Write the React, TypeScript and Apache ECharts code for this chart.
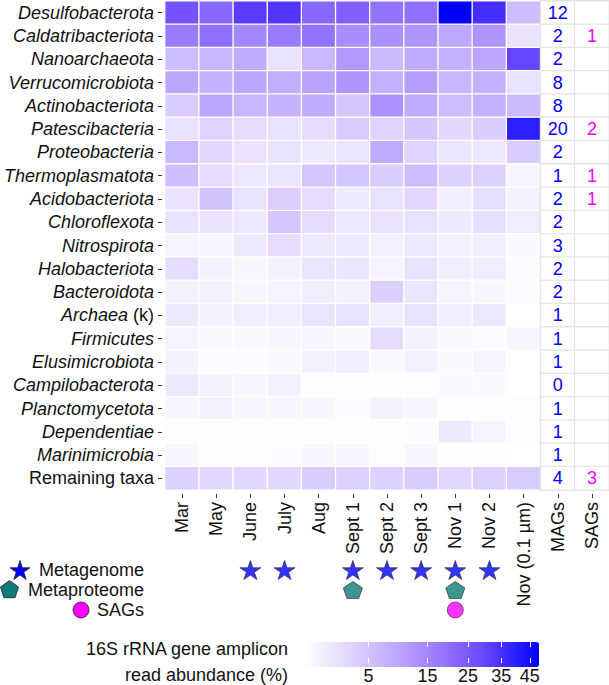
import React, { useEffect, useRef } from 'react';
import * as echarts from 'echarts';

const FONT = '"Liberation Sans", Arial, Helvetica, sans-serif';
const FS = 18;

const MONTHS = ['Mar', 'May', 'June', 'July', 'Aug', 'Sept 1', 'Sept 2', 'Sept 3', 'Nov 1', 'Nov 2', 'Nov (0.1 µm)'];
const X_CATS = [...MONTHS, 'MAGs', 'SAGs'];

const TAXA = [
  'Desulfobacterota', 'Caldatribacteriota', 'Nanoarchaeota', 'Verrucomicrobiota', 'Actinobacteriota',
  'Patescibacteria', 'Proteobacteria', 'Thermoplasmatota', 'Acidobacteriota', 'Chloroflexota',
  'Nitrospirota', 'Halobacteriota', 'Bacteroidota', 'Archaea (k)', 'Firmicutes', 'Elusimicrobiota',
  'Campilobacterota', 'Planctomycetota', 'Dependentiae', 'Marinimicrobia', 'Remaining taxa',
];

// 16S rRNA read abundance (%), one row per taxon, columns follow MONTHS
const ABUNDANCE: number[][] = [
  [26.5, 21.4, 32.1, 33.6, 21.4, 23.3, 19.1, 19.7, 48.5, 35.9, 5.9],
  [16.9, 20.2, 14.8, 17.4, 19.1, 13.8, 13.4, 12.4, 8.7, 12.4, 1.75],
  [5.9, 6.9, 8.3, 1.9, 6.5, 11.5, 6.2, 8.3, 7.6, 9.4, 29.9],
  [9.0, 7.2, 9.0, 7.9, 9.8, 12.0, 7.6, 10.7, 6.9, 7.6, 1.9],
  [3.9, 9.0, 6.9, 7.2, 8.3, 4.7, 12.9, 8.3, 5.9, 7.6, 6.2],
  [1.9, 3.2, 2.3, 1.9, 2.3, 4.1, 3.2, 4.7, 2.7, 3.9, 39.8],
  [6.5, 2.7, 1.75, 1.9, 1.3, 1.6, 8.3, 3.2, 1.6, 1.4, 3.9],
  [5.6, 2.3, 1.4, 1.6, 4.7, 4.7, 3.9, 5.9, 3.4, 3.4, 0.65],
  [1.75, 5.0, 1.9, 3.6, 2.3, 1.3, 1.9, 2.7, 1.0, 2.1, 0.75],
  [1.9, 1.75, 1.4, 4.7, 2.3, 1.4, 1.75, 1.9, 1.3, 2.1, 1.1],
  [0.65, 0.55, 1.3, 2.3, 1.3, 1.3, 0.87, 1.3, 0.87, 1.0, 0.45],
  [2.3, 0.75, 0.55, 0.75, 1.6, 1.6, 0.65, 1.9, 1.0, 1.1, 0.37],
  [0.75, 0.75, 0.55, 0.65, 1.0, 0.75, 3.6, 1.6, 0.65, 0.55, 0.37],
  [1.3, 0.75, 1.0, 1.0, 1.6, 1.9, 1.0, 1.9, 1.0, 1.4, 0.2],
  [0.65, 0.45, 0.45, 0.55, 0.55, 0.45, 2.3, 0.75, 0.45, 0.37, 0.65],
  [0.75, 0.37, 0.37, 0.45, 0.75, 1.0, 0.45, 0.75, 0.45, 0.65, 0.2],
  [1.3, 0.75, 0.55, 0.75, 0.3, 0.3, 0.27, 0.3, 0.45, 0.45, 0.2],
  [0.55, 0.75, 0.55, 0.55, 0.55, 0.37, 0.75, 0.55, 0.3, 0.3, 0.3],
  [0.3, 0.3, 0.3, 0.3, 0.3, 0.3, 0.3, 0.37, 1.3, 0.65, 0.3],
  [0.55, 0.3, 0.3, 0.37, 0.55, 0.55, 0.3, 0.55, 0.27, 0.27, 0.2],
  [3.4, 2.7, 2.7, 2.7, 3.9, 3.4, 3.4, 3.9, 2.7, 3.4, 3.9],
];

const MAGS = [12, 2, 2, 8, 8, 20, 2, 1, 2, 2, 3, 2, 2, 1, 1, 1, 0, 1, 1, 1, 4];
const SAGS: (number | null)[] = [null, 1, null, null, null, 2, null, 1, 1, null, null, null, null, null, null, null, null, null, null, null, 3];

const OMICS_ROWS = ['Metagenome', 'Metaproteome', 'SAGs'];
const METAGENOME_SAMPLES = ['June', 'July', 'Sept 1', 'Sept 2', 'Sept 3', 'Nov 1', 'Nov 2'];
const METAPROTEOME_SAMPLES = ['Sept 1', 'Nov 1'];
const SAG_SAMPLES = ['Nov 1'];

const COLORBAR_TICKS = [5, 15, 25, 35, 45];
const MIN_PCT = 0.23;
const MAX_PCT = 48.5;
const COLOR_STOPS = ['#ffffff', '#d6c8ff', '#a88dff', '#6f4bff', '#0000ff'];

const STAR_PATH = 'path://M50,0L61.23,34.55L97.55,34.55L68.17,55.9L79.39,90.45L50,69.1L20.61,90.45L31.83,55.9L2.45,34.55L38.77,34.55Z';
const PENTAGON_PATH = 'path://M50,0L97.55,34.55L79.39,90.45L20.61,90.45L2.45,34.55Z';

function polyPoints(cx: number, cy: number, r: number, n: number, inner?: number) {
  const pts: number[][] = [];
  const total = inner ? n * 2 : n;
  for (let k = 0; k < total; k++) {
    const a = -Math.PI / 2 + (k * 2 * Math.PI) / total;
    const rr = inner && k % 2 === 1 ? inner : r;
    pts.push([cx + rr * Math.cos(a), cy + rr * Math.sin(a)]);
  }
  return pts;
}

export default function App() {
  const ref = useRef<HTMLDivElement>(null);
  useEffect(() => {
    const chart = echarts.init(ref.current!, null, { renderer: 'svg' });

    const heatData: any[] = [];
    ABUNDANCE.forEach((row, r) => row.forEach((v, c) => heatData.push([c, r, Math.sqrt(v)])));

    const countData: any[] = [];
    MAGS.forEach((n, r) => countData.push({ value: [11, r, 0], txt: `{m|${n}}` }));
    SAGS.forEach((n, r) => countData.push({ value: [12, r, 0], txt: n == null ? '' : `{s|${n}}` }));

    const sqTicks = COLORBAR_TICKS.map((v) => Math.sqrt(v));
    const labelStyle = { fontFamily: FONT, fontSize: FS, color: '#111' };

    const option: any = {
      animation: false,
      textStyle: { fontFamily: FONT },
      grid: [
        { left: 165, width: 444, top: 1, height: 489 },
        { left: 165, width: 444, top: 560, height: 60 },
        { left: 305, width: 234, top: 642, height: 25 },
      ],
      xAxis: [
        {
          type: 'category', gridIndex: 0, data: X_CATS, offset: 4,
          axisLine: { show: false },
          axisTick: { show: true, length: 4, alignWithLabel: true, lineStyle: { color: '#333' } },
          axisLabel: { ...labelStyle, rotate: 90, interval: 0, margin: 8 },
          splitLine: { show: false },
        },
        { type: 'category', gridIndex: 1, data: X_CATS, show: false },
        {
          type: 'value', gridIndex: 2, min: Math.sqrt(MIN_PCT), max: Math.sqrt(MAX_PCT), z: 10,
          axisLine: { show: false }, splitLine: { show: false },
          axisTick: { show: true, inside: true, length: 5, customValues: sqTicks, lineStyle: { color: '#fff', width: 1 } },
          axisLabel: { ...labelStyle, margin: 4, customValues: sqTicks, formatter: (v: number) => String(Math.round(v * v)) },
        },
        {
          type: 'value', gridIndex: 2, position: 'top', min: Math.sqrt(MIN_PCT), max: Math.sqrt(MAX_PCT), z: 10,
          axisLine: { show: false }, splitLine: { show: false },
          axisTick: { show: true, inside: true, length: 5, customValues: sqTicks, lineStyle: { color: '#fff', width: 1 } },
          axisLabel: { show: false },
        },
      ],
      yAxis: [
        {
          type: 'category', gridIndex: 0, data: TAXA, inverse: true, offset: 3,
          axisLine: { show: false },
          axisTick: { show: true, length: 4, alignWithLabel: true, lineStyle: { color: '#333' } },
          axisLabel: {
            ...labelStyle, margin: 8, interval: 0,
            formatter: (v: string) => {
              if (v === 'Remaining taxa') return `{n|${v}}`;
              if (v.startsWith('Archaea')) return `{it|Archaea}{n| (k)}`;
              return `{it|${v}}`;
            },
            rich: {
              it: { ...labelStyle, fontStyle: 'italic' },
              n: { ...labelStyle },
            },
          },
          splitLine: { show: false },
        },
        {
          type: 'category', gridIndex: 1, data: OMICS_ROWS, inverse: true,
          axisLine: { show: false }, axisTick: { show: false },
          axisLabel: { ...labelStyle, margin: 21, interval: 0 },
          splitLine: { show: false },
        },
        { type: 'value', gridIndex: 2, show: false, min: 0, max: 1 },
      ],
      visualMap: [
        {
          type: 'continuous', seriesIndex: 0, dimension: 2,
          min: Math.sqrt(MIN_PCT), max: Math.sqrt(MAX_PCT),
          inRange: { color: COLOR_STOPS },
          orient: 'horizontal', left: 305, top: 642, itemWidth: 25, itemHeight: 234,
          calculable: false, padding: 0, hoverLink: false, show: true,
        },
        {
          type: 'continuous', seriesIndex: 1, dimension: 2, min: 0, max: 1,
          inRange: { color: ['#ffffff', '#ffffff'] }, show: false,
        },
      ],
      series: [
        {
          type: 'heatmap', xAxisIndex: 0, yAxisIndex: 0, data: heatData,
          itemStyle: { borderColor: '#ffffff', borderWidth: 1.3 },
          emphasis: { disabled: true },
        },
        {
          type: 'heatmap', xAxisIndex: 0, yAxisIndex: 0, data: countData,
          itemStyle: { color: '#ffffff', borderColor: '#e4e4e4', borderWidth: 1.3 },
          label: {
            show: true,
            formatter: (p: any) => p.data.txt,
            rich: {
              m: { fontFamily: FONT, fontSize: FS, color: '#0000ff' },
              s: { fontFamily: FONT, fontSize: FS, color: '#ff00ff' },
            },
          },
          emphasis: { disabled: true },
        },
        {
          type: 'scatter', xAxisIndex: 1, yAxisIndex: 1,
          data: METAGENOME_SAMPLES.map((m) => [m, 'Metagenome']),
          symbol: STAR_PATH, symbolKeepAspect: true, symbolSize: [21, 20],
          itemStyle: { color: '#0000ff', borderColor: '#222', borderWidth: 0.8 },
        },
        {
          type: 'scatter', xAxisIndex: 1, yAxisIndex: 1,
          data: METAPROTEOME_SAMPLES.map((m) => [m, 'Metaproteome']),
          symbol: PENTAGON_PATH, symbolKeepAspect: true, symbolSize: [19, 18],
          itemStyle: { color: '#0f7b77', borderColor: '#222', borderWidth: 0.8 },
        },
        {
          type: 'scatter', xAxisIndex: 1, yAxisIndex: 1,
          data: SAG_SAMPLES.map((m) => [m, 'SAGs']),
          symbol: 'circle', symbolSize: 16,
          itemStyle: { color: '#ff00ff', borderColor: '#222', borderWidth: 0.8 },
        },
      ],
      graphic: [
        { type: 'polygon', shape: { points: polyPoints(20, 571, 10.5, 5, 4.0) }, style: { fill: '#0000ff', stroke: '#222', lineWidth: 0.8 } },
        { type: 'polygon', shape: { points: polyPoints(9.5, 590, 9.5, 5) }, style: { fill: '#0f7b77', stroke: '#222', lineWidth: 0.8 } },
        { type: 'circle', shape: { cx: 81, cy: 610, r: 8 }, style: { fill: '#ff00ff', stroke: '#222', lineWidth: 0.8 } },
        { type: 'text', x: 288, y: 649, style: { text: '16S rRNA gene amplicon', align: 'right', verticalAlign: 'middle', fontFamily: FONT, fontSize: FS, fill: '#111' } },
        { type: 'text', x: 288, y: 675, style: { text: 'read abundance (%)', align: 'right', verticalAlign: 'middle', fontFamily: FONT, fontSize: FS, fill: '#111' } },
      ],
    };

    chart.setOption(option);
    return () => chart.dispose();
  }, []);

  return <div ref={ref} style={{ position: 'absolute', left: 0, top: 0, width: 609, height: 685 }} />;
}
